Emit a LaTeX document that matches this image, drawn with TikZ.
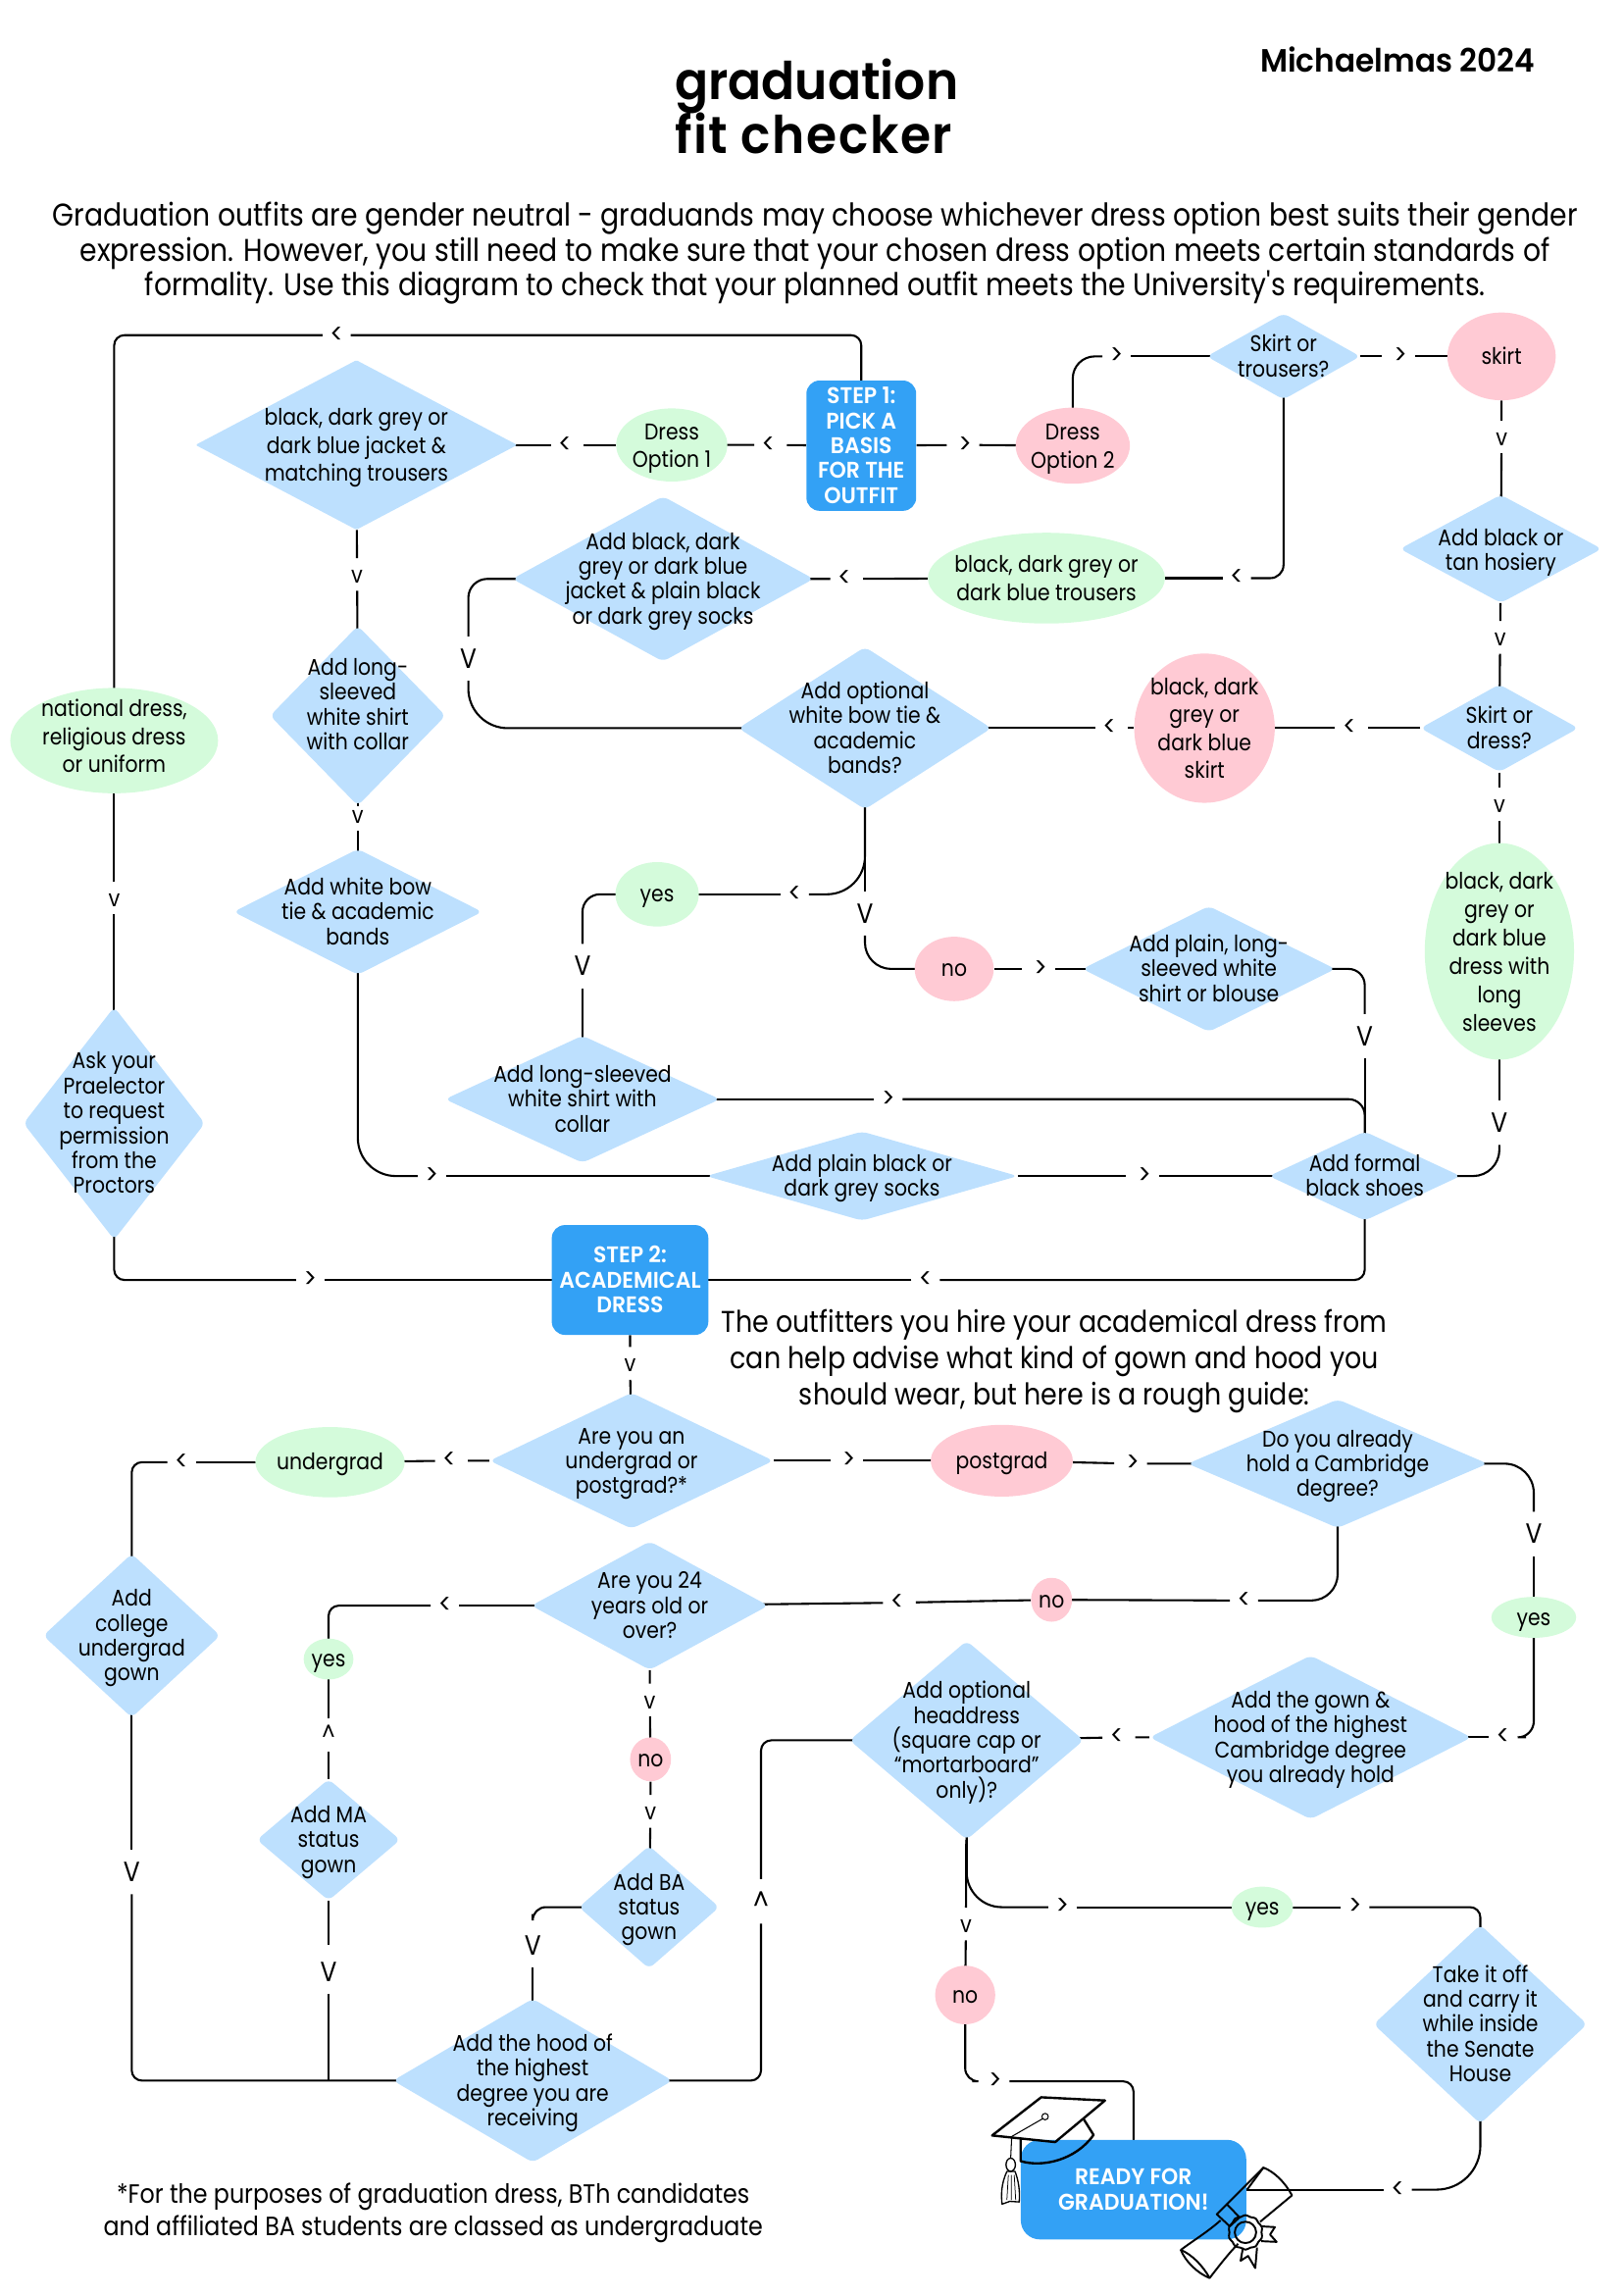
\documentclass[tikz,border=0pt]{standalone}
\usepackage{fontspec}
\setmainfont{Poppins}[FakeStretch=0.88]
\newfontfamily\headfont{Poppins}[FakeStretch=0.95,UprightFont=* SemiBold]
\usepackage{xcolor}
\usetikzlibrary{shapes.geometric,backgrounds}
\definecolor{boxblue}{HTML}{33A1F5}
\definecolor{paleblue}{HTML}{BDE0FE}
\definecolor{palegreen}{HTML}{D4FBDB}
\definecolor{palepink}{HTML}{FFCAD4}
% text of a shape takes no room, so that the shape keeps the size it is given
\newcommand{\lbl}[2][0pt]{\smash{\makebox[0pt]{\raisebox{\dimexpr #1-.36em}{\begin{tabular}{@{}c@{}}#2\end{tabular}}}}}
\tikzset{%
  base/.style={inner sep=0pt, font=\fontsize{15.5}{17}\selectfont},
  loose/.style={font=\fontsize{15.5}{19}\selectfont},
  dia/.style 2 args={base, diamond, fill=paleblue, rounded corners=4pt, minimum width=#1+3pt, minimum height=#2+2pt},
  oval/.style n args={3}{base, ellipse, fill=#1, minimum width=#2, minimum height=#3},
  stepbox/.style 2 args={base, rectangle, fill=boxblue, rounded corners=9pt, text=white, minimum width=#1, minimum height=#2},
  tipA/.style={inner sep=0pt, minimum size=25pt, font=\fontsize{19}{19}\selectfont},
  tipB/.style={inner sep=0pt, minimum size=36pt, font=\fontsize{19}{19}\selectfont},
  tipC/.style={inner sep=0pt, minimum size=25pt, font=\fontsize{16}{16}\selectfont},
  link/.style={draw, line width=1.4pt, rounded corners=7pt, shorten <=-3pt, shorten >=-3pt},
  icon/.style={draw, line width=1.3pt, line join=round},
  heading/.style={anchor=base west, inner sep=0pt, font=\headfont\fontsize{35.5}{36}\selectfont},
}

\begin{document}
\begin{tikzpicture}[x=1pt,y=-1pt]
	\useasboundingbox (0,0) rectangle (1109,1568);
	% headings
	\node[heading] (titleA) at (461,68) {graduation};
	\node[heading] (titleB) at (461,105) {\addfontfeature{LetterSpace=3}fit checker};
	\node (term) at (955,41) [font=\headfont\fontsize{22}{24}\selectfont] {Michaelmas 2024};
	\node (intro) at (557,173) [align=center, font=\fontsize{21.5}{24}\selectfont] {Graduation outfits are gender neutral - graduands may choose whichever dress option best suits their gender\\expression. However, you still need to make sure that your chosen dress option meets certain standards of\\formality. Use this diagram to check that your planned outfit meets the University\textquotesingle s requirements.};
	\node (guide) at (720.5,930) [align=center, font=\fontsize{20.5}{25}\selectfont] {The outfitters you hire your academical dress from\\can help advise what kind of gown and hood you\\should wear, but here is a rough guide:};
	\node (note) at (296,1512) [align=center, font=\fontsize{18.1}{22}\selectfont] {*For the purposes of graduation dress, BTh candidates\\and affiliated BA students are classed as undergraduate};

	% step 1
	\node[stepbox={75pt}{89pt}] (stepOne) at (588.5,304.5) {\lbl{\headfont STEP 1:\\\headfont PICK A\\\headfont BASIS\\\headfont FOR THE\\\headfont OUTFIT}};
	\node[oval={palegreen}{76pt}{50pt}, loose] (optOne) at (459,304) {\lbl{Dress\\Option 1}};
	\node[oval={palepink}{78pt}{52pt}, loose] (optTwo) at (733,304.5) {\lbl{Dress\\Option 2}};
	\node[oval={palegreen}{142pt}{72pt}, loose] (national) at (78,506) {\lbl[3pt]{national dress,\\religious dress\\or uniform}};
	\node[dia={217pt}{114pt}, loose, rounded corners=1pt] (jacket) at (243.5,304) {\lbl{black, dark grey or\\dark blue jacket \&\\matching trousers}};
	\node[dia={102pt}{57pt}] (skirtQ) at (877,243.5) {\lbl{Skirt or\\trousers?}};
	\node[oval={palepink}{74pt}{60pt}] (skirt) at (1026,243.5) {\lbl{skirt}};
	\node[dia={135pt}{72pt}] (hosiery) at (1025.5,375) {\lbl[-1pt]{Add black or\\tan hosiery}};
	\node[oval={palegreen}{162pt}{62pt}, loose] (trousers) at (715,395) {\lbl{black, dark grey or\\dark blue trousers}};
	\node[dia={203pt}{111pt}] (addJacket) at (453,395.5) {\lbl{Add black, dark\\grey or dark blue\\jacket \& plain black\\or dark grey socks}};
	\node[dia={170pt}{109pt}] (bowQ) at (591,497.5) {\lbl{Add optional\\white bow tie \&\\academic\\bands?}};
	\node[oval={palepink}{96pt}{102pt}, loose] (blackSkirt) at (823,497.5) {\lbl{black, dark\\grey or\\dark blue\\skirt}};
	\node[dia={105pt}{58pt}] (dressQ) at (1024.5,497.5) {\lbl{Skirt or\\dress?}};
	\node[oval={palegreen}{102pt}{148pt}, font=\fontsize{15.5}{19.5}\selectfont] (longDress) at (1024.5,650) {\lbl{black, dark\\grey or\\dark blue\\dress with\\long\\sleeves}};
	\node[dia={117pt}{121pt}] (shirt) at (244.5,489) {\lbl[7.5pt]{Add long-\\sleeved\\white shirt\\with collar}};
	\node[dia={167pt}{84pt}] (whiteBow) at (244.5,623) {\lbl{Add white bow\\tie \& academic\\bands}};
	\node[oval={palegreen}{57pt}{44pt}] (yesBow) at (449,611) {\lbl{yes}};
	\node[oval={palepink}{54pt}{44pt}] (noBow) at (652,662) {\lbl{no}};
	\node[dia={170pt}{84pt}] (plainShirt) at (826,662) {\lbl{Add plain, long-\\sleeved white\\shirt or blouse}};
	\node[dia={185pt}{85pt}] (collar) at (398,751) {\lbl{Add long-sleeved\\white shirt with\\collar}};
	\node[dia={210pt}{59pt}] (socks) at (589,803.5) {\lbl{Add plain black or\\dark grey socks}};
	\node[dia={128pt}{59pt}] (shoes) at (932.5,803.5) {\lbl{Add formal\\black shoes}};
	\node[dia={121pt}{157pt}] (praelector) at (78,767.5) {\lbl{Ask your\\Praelector\\to request\\permission\\from the\\Proctors}};

	% step 2
	\node[stepbox={107pt}{75pt}] (stepTwo) at (430.5,874.5) {\lbl{\headfont STEP 2:\\\headfont ACADEMICAL\\\headfont DRESS}};
	\node[dia={191pt}{91pt}] (levelQ) at (431.5,998) {\lbl{Are you an\\undergrad or\\postgrad?*}};
	\node[oval={palegreen}{102pt}{48pt}] (undergrad) at (225.5,999) {\lbl{undergrad}};
	\node[oval={palepink}{97pt}{49pt}] (postgrad) at (684.5,998) {\lbl{postgrad}};
	\node[dia={202pt}{86pt}] (holdQ) at (914,1000) {\lbl{Do you already\\hold a Cambridge\\degree?}};
	\node[dia={118pt}{110pt}] (college) at (90,1117.5) {\lbl{Add\\college\\undergrad\\gown}};
	\node[oval={palepink}{28pt}{30pt}] (noHold) at (718.5,1093) {\lbl{no}};
	\node[dia={159pt}{86pt}] (ageQ) at (444,1097) {\lbl{Are you 24\\years old or\\over?}};
	\node[oval={palegreen}{34pt}{28pt}] (yesAge) at (224.5,1133.5) {\lbl{yes}};
	\node[dia={95pt}{81pt}] (maGown) at (224.5,1257) {\lbl{Add MA\\status\\gown}};
	\node[oval={palepink}{28pt}{30pt}] (noAge) at (444.5,1202) {\lbl{no}};
	\node[dia={93pt}{82pt}] (baGown) at (443.5,1303) {\lbl{Add BA\\status\\gown}};
	\node[oval={palegreen}{58pt}{28pt}] (yesHold) at (1048,1105) {\lbl{yes}};
	\node[dia={217pt}{110pt}] (gown) at (895.5,1187) {\lbl{Add the gown \&\\hood of the highest\\Cambridge degree\\you already hold}};
	\node[dia={157pt}{134pt}] (capQ) at (660.5,1189) {\lbl{Add optional\\headdress\\\smash{(square cap or}\\“mortarboard”\\\smash{only)?}}};
	\node[dia={188pt}{110pt}] (hood) at (364,1421.5) {\lbl{Add the hood of\\the highest\\degree you are\\receiving}};
	\node[oval={palepink}{41pt}{40pt}] (noCap) at (659.5,1363) {\lbl{no}};
	\node[oval={palegreen}{42pt}{28pt}] (yesCap) at (862.5,1303) {\lbl{yes}};
	\node[dia={143pt}{134pt}] (takeOff) at (1011.5,1383) {\lbl{Take it off\\and carry it\\while inside\\the Senate\\House}};
	\node[stepbox={154pt}{68pt}, rounded corners=13pt] (ready) at (774.5,1496) {\lbl{\headfont READY FOR\\\headfont GRADUATION!}};
	\coordinate (maEnd) at (224.5,1418.5);

	% direction marks
	\foreach \n/\x/\y/\t in {tNat/230/229/<, tOneA/525/304/<, tOneB/386/304/<, tTwoA/659.5/304/>, tTwoB/763/243.5/>,
		tSkirtA/957/243.5/>, tTrou/845/395/<, tBlkA/922/497.5/<,
		tBlkB/758/497.5/<, tJack/577/395.5/<, tWhite/295/803.5/>, tSock/782/803.5/>,
		tYes/543/611/<, tNo/711/662/>, tCol/607/751/>, tShoe/632.5/874.5/<, tAsk/212/874.5/>,
		tUg/307/998/<, tUgB/124/999/<, tPg/580/998/>, tPgB/774/1000/>, tHold/850/1093.5/<,
		tNoH/613/1095/<, tAge/304/1097/<,
		tYesH/1027/1187/<, tGown/763/1187/<, tCapB/726/1303/>, tYesC/926/1303/>, tNoC/680/1422/>, tTake/955/1496/<}
		\node[tipA] (\n) at (\x,\y) {\t};
	\foreach \n/\x/\y/\t in {tSkirtB/1026/300/v, tHos/1025/437/v, tDrs/1024.5/551/v, tJackB/244/394/v, tShirt/244.5/558/v,
		tNat2/78/615/v, tLevel/430.5/933/v, tMa/224.5/1184/\textasciicircum, tAgeB/444/1163/v, tNoA/444.5/1239/v, tCap/660/1316/v}
		\node[tipC] (\n) at (\x,\y) {\t};
	\foreach \n/\x/\y/\t in {tJackV/320/450/V, tBow/591/624/V, tYesV/398/660/V, tPlain/932.5/708/V, tDress/1024.5/767/V,
		tHoldV/1048/1048/V, tColl/90/1279/V, tMaV/224.5/1347/V, tBa/364/1329/V, tHood/520/1299/\textasciicircum}
		\node[tipB] (\n) at (\x,\y) {\t};

	\begin{scope}[on background layer]
	\draw[link] (stepOne) |- (tNat);
	\draw[link] (tNat) -| (national);
	\draw[link] (stepOne) -- (tOneA) -- (optOne);
	\draw[link] (optOne) -- (tOneB) -- (jacket);
	\draw[link] (stepOne) -- (tTwoA) -- (optTwo);
	\draw[link, rounded corners=15pt] (optTwo) |- (tTwoB);
	\draw[link] (tTwoB) -- (skirtQ);
	\draw[link] (skirtQ) -- (tSkirtA) -- (skirt);
	\draw[link, rounded corners=9pt] (skirtQ) |- (tTrou);
	\draw[link] (tTrou) -- (trousers);
	\draw[link] (skirt) -- (tSkirtB) -- (hosiery);
	\draw[link] (hosiery) -- (tHos) -- (dressQ);
	\draw[link] (dressQ) -- (tDrs) -- (longDress);
	\draw[link] (dressQ) -- (tBlkA) -- (blackSkirt);
	\draw[link] (blackSkirt) -- (tBlkB) -- (bowQ);
	\draw[link] (trousers) -- (tJack) -- (addJacket);
	\draw[link, rounded corners=13pt] (addJacket) -| (tJackV);
	\draw[link, rounded corners=27pt] (tJackV) |- (bowQ);
	\draw[link] (jacket) -- (tJackB) -- (shirt);
	\draw[link] (shirt) -- (tShirt) -- (whiteBow);
	\draw[link, rounded corners=26pt] (whiteBow) |- (tWhite);
	\draw[link] (tWhite) -- (socks);
	\draw[link] (socks) -- (tSock) -- (shoes);
	\draw[link, rounded corners=26pt] (bowQ) |- (tYes);
	\draw[link] (tYes) -- (yesBow);
	\draw[link] (bowQ) -- (tBow);
	\draw[link, rounded corners=18pt] (tBow) |- (noBow);
	\draw[link, rounded corners=12pt] (yesBow) -| (tYesV);
	\draw[link] (tYesV) -- (collar);
	\draw[link] (noBow) -- (tNo) -- (plainShirt);
	\draw[link, rounded corners=11pt] (plainShirt) -| (tPlain);
	\draw[link] (tPlain) -- (shoes);
	\draw[link] (collar) -- (tCol);
	\draw[link, rounded corners=11pt] (tCol) -| (shoes);
	\draw[link] (shoes) |- (tShoe);
	\draw[link] (tShoe) -- (stepTwo);
	\draw[link] (longDress) -- (tDress);
	\draw[link, rounded corners=18pt] (tDress) |- (shoes);
	\draw[link] (national) -- (tNat2) -- (praelector);
	\draw[link] (praelector) |- (tAsk);
	\draw[link] (tAsk) -- (stepTwo);
	\draw[link] (stepTwo) -- (tLevel) -- (levelQ);
	\draw[link] (levelQ) -- (tUg) -- (undergrad);
	\draw[link] (undergrad) -- (tUgB);
	\draw[link] (tUgB) -| (college);
	\draw[link] (levelQ) -- (tPg) -- (postgrad);
	\draw[link] (postgrad) -- (tPgB) -- (holdQ);
	\draw[link, rounded corners=18pt] (holdQ) |- (tHold);
	\draw[link] (tHold) -- (noHold);
	\draw[link] (noHold) -- (tNoH) -- (ageQ);
	\draw[link, rounded corners=20pt] (holdQ) -| (tHoldV);
	\draw[link] (tHoldV) -- (yesHold);
	\draw[link, rounded corners=11pt] (yesHold) |- (tYesH);
	\draw[link] (tYesH) -- (gown);
	\draw[link] (gown) -- (tGown) -- (capQ);
	\draw[link] (ageQ) -- (tAge);
	\draw[link] (tAge) -| (yesAge);
	\draw[link] (maGown) -- (tMa) -- (yesAge);
	\draw[link] (maGown) -- (tMaV) -- (maEnd);
	\draw[link] (college) -- (tColl);
	\draw[link] (tColl) |- (hood);
	\draw[link] (ageQ) -- (tAgeB) -- (noAge);
	\draw[link] (noAge) -- (tNoA) -- (baGown);
	\draw[link, rounded corners=9pt] (baGown) -| (tBa);
	\draw[link] (tBa) -- (hood);
	\draw[link] (hood) -| (tHood);
	\draw[link] (tHood) |- (capQ);
	\draw[link] (capQ) -- (tCap) -- (noCap);
	\draw[link, rounded corners=24pt] (capQ) |- (tCapB);
	\draw[link] (tCapB) -- (yesCap);
	\draw[link] (yesCap) -- (tYesC);
	\draw[link] (tYesC) -| (takeOff);
	\draw[link, rounded corners=9pt] (noCap) |- (tNoC);
	\draw[link] (tNoC) -| (ready);
	\draw[link, rounded corners=30pt] (takeOff) |- (tTake);
	\draw[link] (tTake) -- (ready);
	\end{scope}

	% mortarboard
	\draw[icon, line width=1.6pt] (677.9,1459) -- (711.4,1432.9) -- (755,1435.1) -- (721,1463.5) -- cycle;
	\draw[icon, line width=1.6pt] (697.4,1460.8) -- (697.4,1476.5) .. controls (712,1481) and (735,1476) .. (747.2,1458.6) -- (740.5,1447.9);
	\draw[icon, line width=.7pt] (714.1,1446.1) circle (2.2) (712.5,1447.5) -- (691.3,1459.7) -- (690.6,1474.2);
	\draw[icon, line width=.9pt] (690.6,1479) ellipse (3.2 and 4.5);
	\draw[icon, line width=.9pt] (688,1483.6) .. controls (684,1492) and (684,1500) .. (684.7,1505.9) -- (690,1504) -- (696.4,1504.4) .. controls (697,1497) and (696,1490) .. (693.6,1483.6) -- cycle;
	\draw[icon, line width=.5pt] (689,1486) -- (688,1503) (691,1486) -- (691,1503) (693,1486) -- (694,1503);
	% diploma
	\draw[icon] (852.1,1496) -- (863.3,1480.9) .. controls (871,1484) and (878,1491) .. (882.8,1499.9) -- (861,1518);
	\draw[icon] (838.3,1506) -- (863.3,1480.9);
	\draw[icon] (831.4,1512.8) -- (838.3,1506) -- (847,1514.9) -- (840.3,1521.1) -- cycle;
	\draw[icon] (834,1517) .. controls (825,1525) and (815,1531) .. (806.8,1537.2) .. controls (810,1545) and (818,1553) .. (826.5,1556.4) .. controls (833,1548) and (840,1539) .. (846,1533);
	\draw[icon] (806.8,1537.2) .. controls (814,1540) and (822,1548) .. (826.5,1556.4);
	\draw[icon] (862.2,1521.1) -- (871.1,1521.6) -- (867.8,1526.7) -- (872.3,1531.7) -- (861.8,1531.2);
	\draw[icon] (849.3,1535.6) -- (847.7,1544.6) -- (852.8,1541.3) -- (857.7,1549.6) -- (858.9,1535.6);
	\node[star, star points=10, star point ratio=1.18, minimum size=25pt, inner sep=0pt, icon, rounded corners=2pt] (seal) at (851,1525.2) {};
	\draw[icon] (seal) circle (7.3);
\end{tikzpicture}
\end{document}
